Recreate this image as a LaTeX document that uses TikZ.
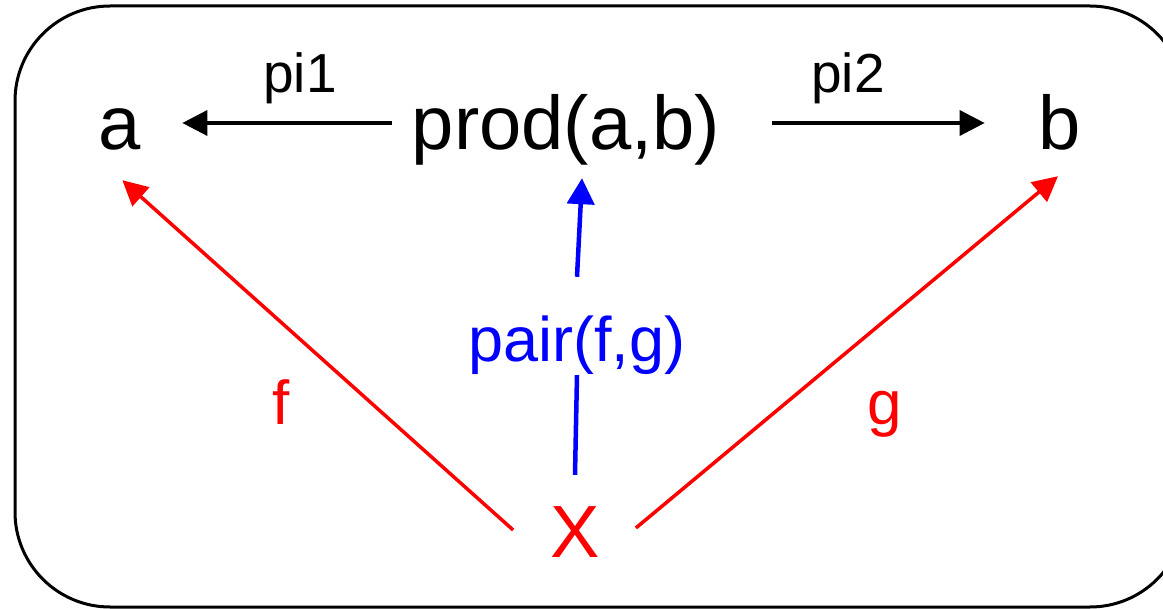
\documentclass[tikz,border=0pt]{standalone}
\usepackage{fontspec}
\setmainfont{Liberation Sans}
\usetikzlibrary{arrows.meta}
\begin{document}
\begin{tikzpicture}[x=1pt, y=-1pt,
    obj/.style={inner sep=0pt, font=\fontsize{76}{80}\selectfont, text height=68pt, text depth=14pt},
    lab/.style={inner sep=0pt, font=\fontsize{55}{60}\selectfont, anchor=base},
    map/.style={line width=3.5pt, -{Triangle[length=25pt,width=25pt]}}]
    \useasboundingbox (0,0) rectangle (1163,609);
    \draw[line width=3pt, rounded corners=95pt] (15,6) rectangle (1185,607);

    \node[obj] (a) at (120,123) {a};
    \node[obj] (prod) at (566,123) {prod(a,b)};
    \node[obj] (b) at (1060,123) {b};
    \node[obj, red, font=\fontsize{74}{78}\selectfont] (X) at (575,531) {X};

    \node[lab] (pione) at (300,93) {pi1};
    \node[lab] (pitwo) at (848,93) {pi2};
    \node[lab, red, font=\fontsize{62}{66}\selectfont] (f) at (281,425) {f};
    \node[lab, red, font=\fontsize{62}{66}\selectfont] (g) at (885,425) {g};
    \node[inner sep=0pt, blue, font=\fontsize{63}{67}\selectfont, text height=85pt, text depth=13pt] (pair) at (577,326) {pair(f,g)};

    \draw[map] ([xshift=-20pt]prod.west) -- ([xshift=41pt]a.east);
    \draw[map] ([xshift=52pt]prod.east) -- ([xshift=-54pt]b.west);
    \draw[map, red] ([shift={(-37,-1)}]X.west) -- ([shift={(-19,16)}]a.south east);
    \draw[map, red] ([shift={(36,-3)}]X.east) -- ([shift={(-2,12)}]b.south);
    \draw[blue, line width=4.5pt] ([shift={(0,-15)}]X.north) -- (pair.south);
    \draw[blue, line width=4.5pt, -{Triangle[length=26pt,width=27pt]}] (pair.north) -- ([shift={(16,14)}]prod.south);
\end{tikzpicture}
\end{document}
